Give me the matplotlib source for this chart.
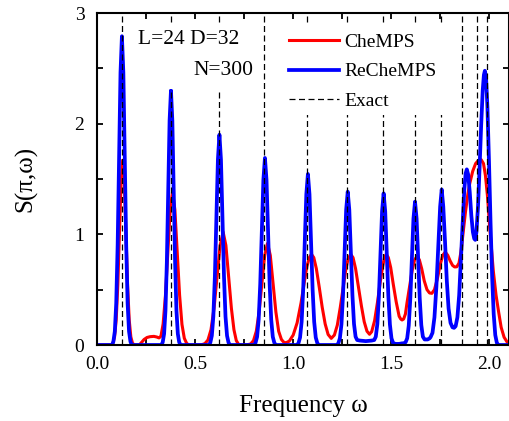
import numpy as np
import matplotlib
matplotlib.use("Agg")
import matplotlib.pyplot as plt
from matplotlib.patches import Rectangle
from matplotlib.ticker import MultipleLocator, FormatStrFormatter

plt.rcParams['font.family'] = ['Liberation Serif', 'DejaVu Serif']

# exact excitation energies (dashed lines)
exact_w = [0.127, 0.376, 0.621, 0.853, 1.072, 1.276, 1.458, 1.619, 1.751, 1.859, 1.936, 1.986]

# CheMPS curve
w_che = [0.0, 0.075, 0.0812, 0.0895, 0.0978, 0.1061, 0.1144, 0.1227, 0.131, 0.1393, 0.1476,
         0.1559, 0.1642, 0.1725, 0.1808, 0.19, 0.215, 0.228, 0.24, 0.255, 0.27, 0.29, 0.305,
         0.316, 0.326, 0.337, 0.349, 0.361, 0.373, 0.385, 0.397, 0.409, 0.421, 0.433, 0.445,
         0.457, 0.468, 0.524, 0.5345, 0.55, 0.5655, 0.581, 0.5965, 0.612, 0.6275, 0.643, 0.657,
         0.671, 0.685, 0.698, 0.710, 0.722, 0.735, 0.762, 0.7835, 0.7977, 0.812, 0.8262, 0.8405,
         0.8547, 0.869, 0.8833, 0.8975, 0.9118, 0.926, 0.940, 0.952, 0.963, 0.98, 1.0, 1.02,
         1.04, 1.055, 1.07, 1.082, 1.093, 1.105, 1.118, 1.133, 1.148, 1.163, 1.178, 1.194,
         1.21, 1.225, 1.24, 1.255, 1.268, 1.28, 1.293, 1.305, 1.318, 1.333, 1.348, 1.362,
         1.376, 1.389, 1.40, 1.415, 1.43, 1.443, 1.455, 1.465, 1.474, 1.485, 1.497, 1.51,
         1.525, 1.54, 1.548, 1.555, 1.563, 1.572, 1.58, 1.595, 1.607, 1.619, 1.631, 1.643,
         1.655, 1.668, 1.682, 1.695, 1.707, 1.72, 1.735, 1.75, 1.762, 1.775, 1.788, 1.80,
         1.812, 1.823, 1.834, 1.845, 1.855, 1.865, 1.878, 1.89, 1.90, 1.915, 1.93, 1.945,
         1.958, 1.97, 1.98, 1.99, 2.0, 2.01, 2.02, 2.034, 2.047, 2.06, 2.075, 2.093, 2.1]
s_che = [0.0, 0.0, 0.018, 0.073, 0.226, 0.543, 1.014, 1.473, 1.67, 1.473, 1.014,
         0.543, 0.226, 0.073, 0.018, 0.0, 0.0, 0.025, 0.05, 0.068, 0.075, 0.078, 0.072,
         0.064, 0.08, 0.19, 0.45, 0.841, 1.222, 1.385, 1.222, 0.841, 0.45, 0.187, 0.061,
         0.015, 0.0, 0.0, 0.003, 0.013, 0.045, 0.138, 0.332, 0.619, 0.90, 1.02, 0.90,
         0.619, 0.332, 0.138, 0.04, 0.005, 0.0, 0.0, 0.010, 0.040, 0.124, 0.298, 0.557,
         0.81, 0.918, 0.81, 0.557, 0.298, 0.124, 0.05, 0.025, 0.02, 0.035, 0.09, 0.2,
         0.38, 0.55, 0.71, 0.79, 0.82, 0.79, 0.69, 0.52, 0.34, 0.19, 0.095, 0.06,
         0.09, 0.18, 0.34, 0.52, 0.68, 0.78, 0.82, 0.79, 0.69, 0.52, 0.35, 0.21,
         0.125, 0.097, 0.12, 0.22, 0.39, 0.56, 0.70, 0.79, 0.82, 0.79, 0.70, 0.55,
         0.39, 0.26, 0.235, 0.226, 0.235, 0.28, 0.38, 0.55, 0.68, 0.77, 0.80, 0.77,
         0.69, 0.58, 0.50, 0.47, 0.467, 0.50, 0.60, 0.73, 0.81, 0.84, 0.81, 0.76,
         0.72, 0.705, 0.707, 0.74, 0.84, 1.0, 1.2, 1.36, 1.46, 1.57, 1.64, 1.67,
         1.675, 1.64, 1.53, 1.35, 1.10, 0.88, 0.67, 0.45, 0.30, 0.16, 0.07, 0.02, 0.01]

# ReCheMPS curve
w_reche = [0.0, 0.077, 0.0835, 0.0908, 0.098, 0.1053, 0.1125, 0.1198, 0.127, 0.1343, 0.1415,
           0.1488, 0.156, 0.1633, 0.1705, 0.177, 0.328, 0.335, 0.342, 0.349, 0.356, 0.363,
           0.370, 0.377, 0.384, 0.391, 0.398, 0.405, 0.412, 0.419, 0.426, 0.570, 0.5775,
           0.5853, 0.593, 0.6008, 0.6085, 0.6163, 0.624, 0.6318, 0.6395, 0.6473, 0.655, 0.6628,
           0.6705, 0.678, 0.800, 0.808, 0.816, 0.824, 0.832, 0.840, 0.848, 0.856, 0.864,
           0.872, 0.880, 0.888, 0.896, 0.904, 0.912, 1.019, 1.027, 1.035, 1.043, 1.051,
           1.059, 1.067, 1.075, 1.083, 1.091, 1.099, 1.107, 1.115, 1.123, 1.131, 1.222,
           1.230, 1.238, 1.246, 1.254, 1.262, 1.270, 1.278, 1.286, 1.294, 1.302, 1.310,
           1.318, 1.326, 1.34, 1.37, 1.40, 1.413, 1.421, 1.429, 1.437, 1.445, 1.453, 1.461,
           1.469, 1.477, 1.485, 1.493, 1.501, 1.509, 1.52, 1.54, 1.555, 1.565, 1.573, 1.581,
           1.589, 1.597, 1.605, 1.613, 1.621, 1.629, 1.637, 1.645, 1.653, 1.661, 1.670, 1.685,
           1.695, 1.70, 1.71, 1.72, 1.73, 1.74, 1.749, 1.757, 1.765, 1.774, 1.783, 1.792,
           1.802, 1.812, 1.82, 1.828, 1.837, 1.846, 1.855, 1.864, 1.872, 1.879, 1.885, 1.892,
           1.90, 1.908, 1.916, 1.923, 1.928, 1.934, 1.942, 1.95, 1.958, 1.966, 1.972, 1.977,
           1.983, 1.99, 1.998, 2.006, 2.014, 2.022, 2.03, 2.038, 2.046, 2.1]
s_reche = [0.0, 0.0, 0.031, 0.123, 0.377, 0.907, 1.694, 2.461, 2.79, 2.461, 1.694,
           0.907, 0.377, 0.123, 0.031, 0.0, 0.0, 0.025, 0.101, 0.311, 0.748, 1.396,
           2.029, 2.30, 2.029, 1.396, 0.748, 0.311, 0.101, 0.025, 0.0, 0.0, 0.021,
           0.084, 0.257, 0.618, 1.153, 1.676, 1.90, 1.676, 1.153, 0.618, 0.257, 0.084,
           0.021, 0.0, 0.0, 0.019, 0.074, 0.228, 0.549, 1.026, 1.491, 1.69, 1.491,
           1.026, 0.549, 0.228, 0.074, 0.019, 0.0, 0.0, 0.017, 0.068, 0.209, 0.502,
           0.938, 1.363, 1.545, 1.363, 0.938, 0.502, 0.209, 0.068, 0.017, 0.0, 0.0,
           0.015, 0.061, 0.187, 0.450, 0.841, 1.222, 1.385, 1.222, 0.841, 0.45, 0.19,
           0.075, 0.045, 0.04, 0.035, 0.04, 0.045, 0.075, 0.19, 0.445, 0.832, 1.208, 1.37,
           1.208, 0.832, 0.445, 0.185, 0.06, 0.02, 0.01, 0.01, 0.015, 0.015, 0.025, 0.06,
           0.175, 0.421, 0.786, 1.142, 1.295, 1.142, 0.786, 0.421, 0.18, 0.075, 0.05, 0.05,
           0.06, 0.07, 0.11, 0.25, 0.53, 0.91, 1.25, 1.405, 1.25, 0.93, 0.58, 0.33,
           0.2, 0.16, 0.155, 0.17, 0.25, 0.45, 0.78, 1.12, 1.40, 1.55, 1.587, 1.54,
           1.38, 1.17, 1.02, 0.96, 0.95, 1.02, 1.25, 1.6, 1.98, 2.3, 2.44, 2.478,
           2.42, 2.15, 1.66, 1.1, 0.62, 0.28, 0.09, 0.02, 0.0, 0.0]

fig = plt.figure(figsize=(5.1, 4.21), dpi=100)
ax = fig.add_axes([97/510, 1-345/421, 412/510, 332/421])

ax.plot(w_che, s_che, '-', c='#ff0000', lw=2.2, label='CheMPS', zorder=2)
ax.plot(w_reche, s_reche, '-', c='#0000ff', lw=2.7, label='ReCheMPS', zorder=2.1)
ax.vlines(exact_w, 0, 3, colors='k', linestyles=(0, (4.8, 2.8)), lw=0.9, label='Exact', zorder=2.5)

# white boxes behind the annotation and the legend
ax.add_patch(Rectangle((0.075, 0.772), 0.316, 0.198, transform=ax.transAxes,
                       facecolor='white', edgecolor='none', zorder=2.6))
ax.add_patch(Rectangle((0.451, 0.693), 0.411, 0.277, transform=ax.transAxes,
                       facecolor='white', edgecolor='none', zorder=3))

ax.set_xlim(0, 2.1)
ax.set_ylim(0, 3)
ax.xaxis.set_major_locator(MultipleLocator(0.5))
ax.xaxis.set_minor_locator(MultipleLocator(0.25))
ax.xaxis.set_major_formatter(FormatStrFormatter('%.1f'))
ax.yaxis.set_major_locator(MultipleLocator(1))
ax.yaxis.set_minor_locator(MultipleLocator(0.5))
ax.tick_params(which='both', direction='in', top=True, right=True, length=4.5, width=1.3)
ax.tick_params(axis='x', labelsize=14, pad=8)
ax.tick_params(axis='y', labelsize=14, pad=9)
for sp in ax.spines.values():
    sp.set_linewidth(1.5)

ax.set_xlabel('Frequency ω', fontsize=18, labelpad=16)
ax.set_ylabel('S(π,ω)', fontsize=18, labelpad=27)

ax.text(0.0995, 0.919, 'L=24 D=32', transform=ax.transAxes, fontsize=15.5, va='center', ha='left', zorder=4)
ax.text(0.233, 0.828, 'N=300', transform=ax.transAxes, fontsize=15.5, va='center', ha='left', zorder=4)

leg = ax.legend(loc='upper left', bbox_to_anchor=(0.451, 0.957), fontsize=14, frameon=False,
                handlelength=2.6, handletextpad=0.25, labelspacing=0.62, borderpad=0.3, borderaxespad=0)
leg.set_zorder(5)

fig.savefig('out.png', dpi=100)
